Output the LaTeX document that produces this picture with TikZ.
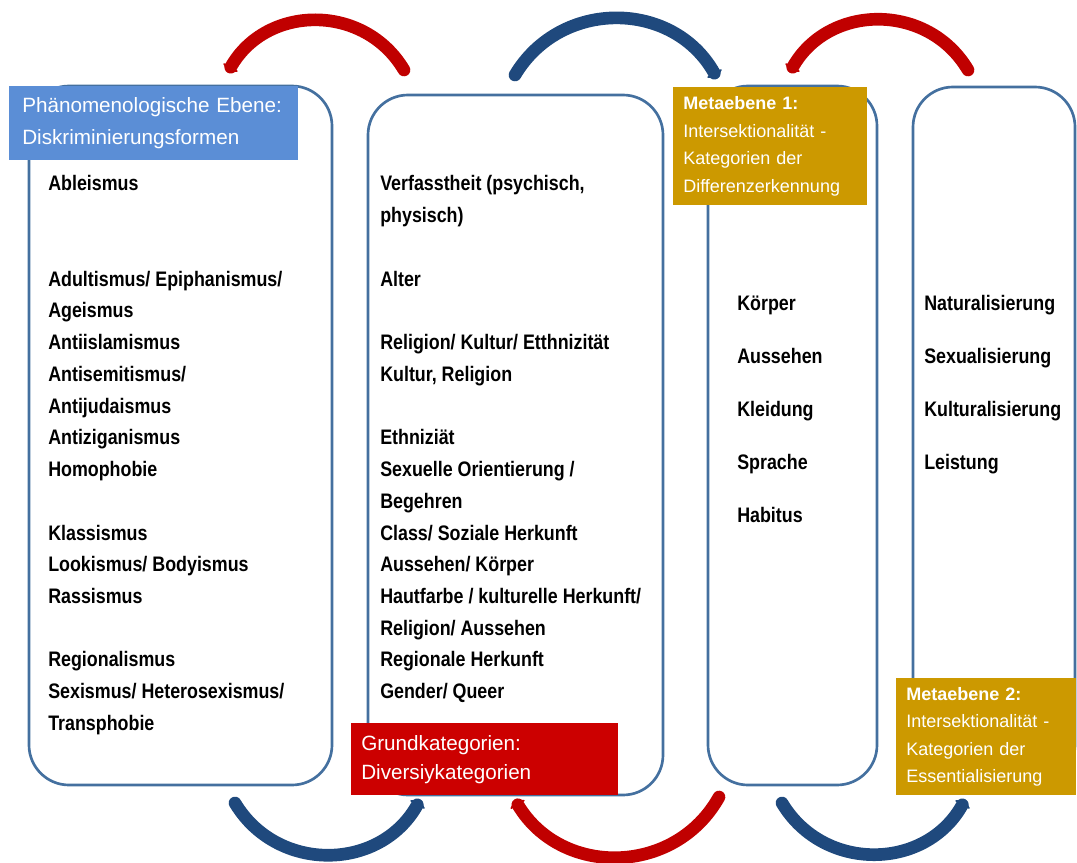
\documentclass[tikz,border=0pt]{standalone}
\usepackage{fontspec}
\setmainfont{Liberation Sans}
\newfontfamily\spaltenfont{Liberation Sans}[FakeStretch=0.85]
\usetikzlibrary{arrows.meta}

\definecolor{rahmen}{HTML}{44709F}
\definecolor{bogenrot}{HTML}{C00000}
\definecolor{bogenblau}{HTML}{1F497D}
\definecolor{ebeneblau}{HTML}{5B8ED6}
\definecolor{ebenerot}{HTML}{CC0000}
\definecolor{ebenegold}{HTML}{CC9900}

\begin{document}
\begin{tikzpicture}[
        x=0.75pt, y=-0.75pt,
        spalte/.style={draw=rahmen, line width=2pt, rounded corners=30pt, inner sep=0pt},
        eintrag/.style={anchor=north west, inner sep=0pt, align=left, font=\spaltenfont\bfseries\fontsize{15.75}{23.8}\selectfont},
        ebene/.style={anchor=north west, inner ysep=0pt, inner xsep=7.5pt, align=left, text=white, font=\fontsize{15.5}{24}\selectfont},
        meta/.style={ebene, font=\fontsize{13.5}{20.6}\selectfont},
        bogen/.style={line width=9.5pt, line cap=round, -{Triangle[length=4.5pt,width=15pt,round]}, looseness=1.13}
    ]
    \useasboundingbox (0,0) rectangle (1077,863);

    % Nodes
    \node (diskr)[spalte, minimum width=227.25pt, minimum height=524.25pt] at (180.5,435.5) {};
    \node (grund)[spalte, minimum width=221.25pt, minimum height=525pt] at (515.5,445) {};
    \node (meta1)[spalte, minimum width=126.75pt, minimum height=524.25pt] at (792.5,435.5) {};
    \node (meta2)[spalte, minimum width=121.5pt, minimum height=523.5pt] at (994,436) {};

    \node (formen)[eintrag] at (48,175.5) {Ableismus\\[47.6pt]
        Adultismus/ Epiphanismus/\\
        Ageismus\\
        Antiislamismus\\
        Antisemitismus/\\
        Antijudaismus\\
        Antiziganismus\\
        Homophobie\\[23.8pt]
        Klassismus\\
        Lookismus/ Bodyismus\\
        Rassismus\\[23.8pt]
        Regionalismus\\
        Sexismus/ Heterosexismus/\\
        Transphobie};
    \node (kategorien)[eintrag] at (380,175.5) {Verfasstheit (psychisch,\\
        physisch)\\[23.8pt]
        Alter\\[23.8pt]
        Religion/ Kultur/ Etthnizität\\
        Kultur, Religion\\[23.8pt]
        Ethniziät\\
        Sexuelle Orientierung /\\
        Begehren\\
        Class/ Soziale Herkunft\\
        Aussehen/ Körper\\
        Hautfarbe / kulturelle Herkunft/\\
        Religion/ Aussehen\\
        Regionale Herkunft\\
        Gender/ Queer};
    \node (differenz)[eintrag, font=\spaltenfont\bfseries\fontsize{15.75}{39.75}\selectfont] at (737,295.5) {Körper\\
        Aussehen\\
        Kleidung\\
        Sprache\\
        Habitus};
    \node (essenz)[eintrag, font=\spaltenfont\bfseries\fontsize{15.75}{39.75}\selectfont] at (924,295.5) {Naturalisierung\\
        Sexualisierung\\
        Kulturalisierung\\
        Leistung};

    \node (phaen)[ebene, fill=ebeneblau, inner xsep=9.75pt, text width=197.25pt, minimum height=55.5pt] at (9,86)
        {Phänomenologische Ebene:\\ Diskriminierungsformen};
    \node (diversity)[ebene, fill=ebenerot, text width=185.25pt, minimum height=54pt, font=\fontsize{15.5}{21.75}\selectfont] at (351,723)
        {Grundkategorien:\\ Diversiykategorien};
    \node (ebene1)[meta, fill=ebenegold, text width=130.5pt, minimum height=88.5pt] at (673,87)
        {\textbf{Metaebene 1:}\\ Intersektionalität -\\ Kategorien der\\ Differenzerkennung};
    \node (ebene2)[meta, fill=ebenegold, text width=120pt, minimum height=87.75pt] at (896,678)
        {\textbf{Metaebene 2:}\\ Intersektionalität -\\ Kategorien der\\ Essentialisierung};

    % Edges
    \coordinate (ob1s) at (404,70);
    \coordinate (ob1e) at (228,72);
    \coordinate (ob2s) at (515,75);
    \coordinate (ob2e) at (717,78);
    \coordinate (ob3s) at (968,70);
    \coordinate (ob3e) at (790,72);
    \coordinate (un1s) at (235,803);
    \coordinate (un1e) at (420,800);
    \coordinate (un2s) at (719,797);
    \coordinate (un2e) at (515,800);
    \coordinate (un3s) at (782,803);
    \coordinate (un3e) at (965,800);

    \draw[bogen, bogenrot] (ob1s) to[bend right=60] (ob1e);
    \draw[bogen, bogenblau] (ob2s) to[bend left=60] (ob2e);
    \draw[bogen, bogenrot] (ob3s) to[bend right=60] (ob3e);
    \draw[bogen, bogenblau] (un1s) to[bend right=60] (un1e);
    \draw[bogen, bogenrot] (un2s) to[bend left=60] (un2e);
    \draw[bogen, bogenblau] (un3s) to[bend right=60] (un3e);

\end{tikzpicture}
\end{document}
